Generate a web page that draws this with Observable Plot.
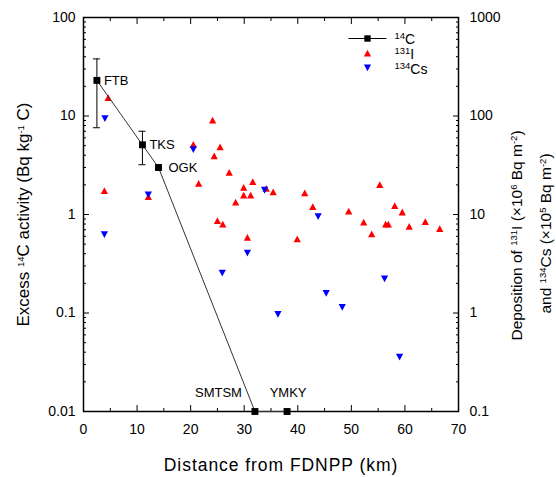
<!DOCTYPE html>
<html><head><meta charset="utf-8">
<script src="https://cdn.jsdelivr.net/npm/d3@7"></script>
<script src="https://cdn.jsdelivr.net/npm/@observablehq/plot@0.6"></script>
<style>
body{margin:0;background:#fff;}
#chart{width:556px;height:477px;}
</style>
</head><body><div id="chart"></div>
<script>
// ---- data ----
const c14Sites = ["FTB", "TKS", "OGK", "SMTSM", "YMKY"];
const c14Dist = [2.5, 11.0, 14.0, 32.0, 38.0];
const c14Act = [23, 5.1, 3.0, 0.01, 0.01];          // Bq kg-1 C (left axis)
const c14ErrLo = [7.6, 3.2, null, null, null];
const c14ErrHi = [38, 7.0, null, null, null];

// right axis units (131I x10^6 Bq m-2)
const i131Dist = [3.9, 4.6, 12.1, 20.5, 21.5, 24.1, 24.4, 25.5, 27.2, 25.0, 26.0, 28.4, 29.9, 29.9, 31.2, 31.6, 30.6, 34.1, 35.4, 39.9, 41.3, 42.8, 49.5, 52.3, 53.8, 55.3, 56.4, 56.9, 58.1, 59.5, 60.8, 63.8, 66.5];
const i131Dep  = [17.3, 152, 15, 51, 20.5, 90, 39, 48, 26.5, 8.6, 7.9, 13.2, 18.7, 15.6, 15.6, 21.3, 5.8, 18.2, 16.8, 5.6, 16.4, 11.9, 10.7, 8.3, 6.3, 19.9, 7.9, 7.9, 12.2, 10.5, 7.5, 8.4, 7.1];
// right axis units (134Cs x10^5 Bq m-2)
const cs134Dist = [4.0, 3.9, 12.1, 20.5, 25.9, 30.6, 33.8, 36.3, 43.8, 45.3, 48.3, 56.2, 59.0];
const cs134Dep  = [95, 6.3, 16, 46, 2.56, 4.1, 17.8, 0.98, 9.6, 1.6, 1.15, 2.24, 0.36];

const xTicks = [0, 10, 20, 30, 40, 50, 60, 70];
const xMinorTicks = [5, 15, 25, 35, 45, 55, 65];
const leftTicks = [0.01, 0.1, 1, 10, 100];
const leftTickLabels = ["0.01", "0.1", "1", "10", "100"];
const rightTickLabels = ["0.1", "1", "10", "100", "1000"];
const rightFactor = 10; // right axis value = left axis value x 10

const xTitle = "Distance from FDNPP (km)";
const yTitle = "Excess ^{14}C activity (Bq kg^{-1} C)";
const y2Title1 = "Deposition of ^{131}I (\u00d710^{6} Bq m^{-2})";
const y2Title2 = "and ^{134}Cs (\u00d710^{5} Bq m^{-2})";
const legendLabels = ["^{14}C", "^{131}I", "^{134}Cs"];

// ---- tables ----
const c14 = c14Sites.map((s, i) => ({site: s, d: c14Dist[i], v: c14Act[i], lo: c14ErrLo[i], hi: c14ErrHi[i]}));
const c14Err = c14.filter(r => r.lo != null);
const iData = i131Dist.map((d, i) => ({d, v: i131Dep[i] / rightFactor}));
const csData = cs134Dist.map((d, i) => ({d, v: cs134Dep[i] / rightFactor}));
const minorY = [];
for (const dec of [0.01, 0.1, 1, 10]) for (let k = 2; k <= 9; k++) minorY.push(+(dec * k).toPrecision(3));

// ---- symbols ----
const triUp = {draw(ctx, size) { const r = Math.sqrt(size / Math.PI); ctx.moveTo(0, -r); ctx.lineTo(r * 0.95, r * 0.78); ctx.lineTo(-r * 0.95, r * 0.78); ctx.closePath(); }};
const triDown = {draw(ctx, size) { const r = Math.sqrt(size / Math.PI); ctx.moveTo(0, r); ctx.lineTo(r * 0.95, -r * 0.78); ctx.lineTo(-r * 0.95, -r * 0.78); ctx.closePath(); }};
const hLine = {draw(ctx) { ctx.moveTo(-19, 0); ctx.lineTo(19, 0); }};

const RED = "#ff0000", BLUE = "#0000ff";
const blank = () => "";

const plot = Plot.plot({
  width: 556, height: 477,
  marginTop: 17, marginRight: 98, marginBottom: 66, marginLeft: 83,
  style: {fontFamily: "'Liberation Sans', Arial, sans-serif", fontSize: "14px", background: "#fff", color: "#000", overflow: "visible"},
  x: {type: "linear", domain: [0, 70]},
  y: {type: "log", domain: [0.01, 100]},
  marks: [
    Plot.axisX({anchor: "bottom", ticks: xTicks, tickSize: -6, tickPadding: 19, tickFormat: d => String(d), fontSize: 14, label: null}),
    Plot.axisX({anchor: "bottom", ticks: xMinorTicks, tickSize: -3, tickFormat: blank, label: null}),
    Plot.axisX({anchor: "top", ticks: xTicks, tickSize: -6, tickFormat: blank, label: null}),
    Plot.axisX({anchor: "top", ticks: xMinorTicks, tickSize: -3, tickFormat: blank, label: null}),
    Plot.axisY({anchor: "left", ticks: leftTicks, tickSize: -6, tickPadding: 14, tickFormat: d => leftTickLabels[leftTicks.indexOf(d)], fontSize: 14, label: null}),
    Plot.axisY({anchor: "left", ticks: minorY, tickSize: -3, tickFormat: blank, label: null}),
    Plot.axisY({anchor: "right", ticks: leftTicks, tickSize: -6, tickPadding: 17, tickFormat: d => rightTickLabels[leftTicks.indexOf(d)], fontSize: 14, label: null}),
    Plot.axisY({anchor: "right", ticks: minorY, tickSize: -3, tickFormat: blank, label: null}),
    Plot.frame({stroke: "#000", strokeWidth: 1.5}),

    // 131I and 134Cs
    Plot.dot(iData, {x: "d", y: "v", symbol: triUp, r: 3.8, fill: RED, stroke: "none"}),
    Plot.dot(csData, {x: "d", y: "v", symbol: triDown, r: 3.8, fill: BLUE, stroke: "none"}),

    // 14C
    Plot.line(c14, {x: "d", y: "v", stroke: "#333", strokeWidth: 1}),
    Plot.ruleX(c14Err, {x: "d", y1: "lo", y2: "hi", stroke: "#000", strokeWidth: 1}),
    Plot.ruleY(c14Err, {y: "lo", x1: "d", x2: "d", insetLeft: -3.5, insetRight: -3.5, stroke: "#000", strokeWidth: 1}),
    Plot.ruleY(c14Err, {y: "hi", x1: "d", x2: "d", insetLeft: -3.5, insetRight: -3.5, stroke: "#000", strokeWidth: 1}),
    Plot.dot(c14, {x: "d", y: "v", symbol: "square", r: 3.9, fill: "#000", stroke: "none"}),

    // site labels
    Plot.text(c14.filter(r => r.site === "FTB" || r.site === "TKS"), {x: "d", y: "v", text: "site", dx: 7, textAnchor: "start", fontSize: 13}),
    Plot.text(c14.filter(r => r.site === "OGK"), {x: "d", y: "v", text: "site", dx: 10, textAnchor: "start", fontSize: 13}),
    Plot.text(c14.filter(r => r.site === "SMTSM"), {x: "d", y: "v", text: "site", dx: -13, dy: -19, textAnchor: "end", fontSize: 13}),
    Plot.text(c14.filter(r => r.site === "YMKY"), {x: "d", y: "v", text: "site", dx: 1, dy: -19, textAnchor: "middle", fontSize: 13}),

    // legend
    Plot.dot([0], {frameAnchor: "top-right", dx: -91, dy: 21, symbol: hLine, r: 1, stroke: "#000", strokeWidth: 1, fill: "none"}),
    Plot.dot([0], {frameAnchor: "top-right", dx: -91, dy: 21, symbol: "square", r: 3.6, fill: "#000", stroke: "none"}),
    Plot.dot([0], {frameAnchor: "top-right", dx: -91, dy: 36, symbol: triUp, r: 3.8, fill: RED, stroke: "none"}),
    Plot.dot([0], {frameAnchor: "top-right", dx: -91, dy: 50, symbol: triDown, r: 3.8, fill: BLUE, stroke: "none"}),
    Plot.text([legendLabels[0]], {frameAnchor: "top-right", dx: -64, dy: 22, text: d => d, textAnchor: "start", lineAnchor: "middle", fontSize: 14}),
    Plot.text([legendLabels[1]], {frameAnchor: "top-right", dx: -64, dy: 37, text: d => d, textAnchor: "start", lineAnchor: "middle", fontSize: 14}),
    Plot.text([legendLabels[2]], {frameAnchor: "top-right", dx: -64, dy: 52, text: d => d, textAnchor: "start", lineAnchor: "middle", fontSize: 14}),

    // axis titles
    Plot.text([xTitle], {frameAnchor: "bottom", dx: 10, dy: 54, text: d => d, textAnchor: "middle", lineAnchor: "middle", fontSize: 17.5}),
    Plot.text([yTitle], {frameAnchor: "left", dx: -60, dy: 0, rotate: -90, text: d => d, textAnchor: "middle", lineAnchor: "middle", fontSize: 17}),
    Plot.text([y2Title1], {frameAnchor: "right", dx: 59, dy: 21, rotate: -90, text: d => d, textAnchor: "middle", lineAnchor: "middle", fontSize: 15.5}),
    Plot.text([y2Title2], {frameAnchor: "right", dx: 88, dy: 19, rotate: -90, text: d => d, textAnchor: "middle", lineAnchor: "middle", fontSize: 15.5})
  ]
});

// superscripts: turn ^{...} into raised tspans; widen the x title slightly
d3.select(plot).selectAll("text").each(function() {
  const t = this.textContent;
  if (t === xTitle) { this.style.letterSpacing = "0.95px"; return; }
  if (!t.includes("^{")) return;
  const fs = parseFloat(this.getAttribute("font-size")) || 14;
  const parts = t.split(/(\^\{[^}]*\})/).filter(p => p);
  this.textContent = "";
  let raised = false;
  for (const p of parts) {
    const m = p.match(/^\^\{(.*)\}$/);
    const ts = document.createElementNS("http://www.w3.org/2000/svg", "tspan");
    if (m) {
      ts.textContent = m[1];
      ts.setAttribute("font-size", (fs * 0.68).toFixed(1));
      ts.setAttribute("dy", (-fs * 0.38).toFixed(1));
      raised = true;
    } else {
      ts.textContent = p;
      if (raised) ts.setAttribute("dy", (fs * 0.38).toFixed(1));
      raised = false;
    }
    this.appendChild(ts);
  }
});

document.getElementById("chart").appendChild(plot);
</script>
</body></html>
